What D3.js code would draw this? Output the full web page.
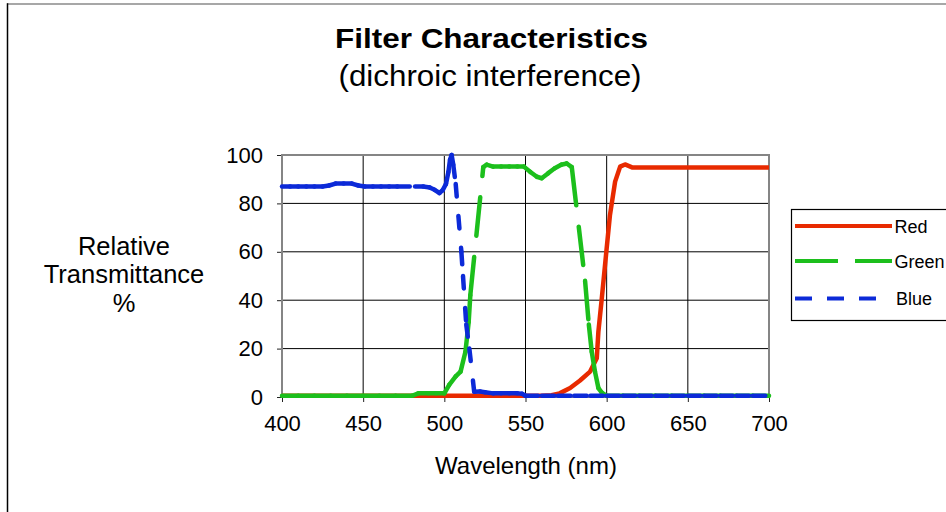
<!DOCTYPE html>
<html>
<head>
<meta charset="utf-8">
<title>Filter Characteristics</title>
<script src="https://cdn.jsdelivr.net/npm/d3@7"></script>
<style>
  html, body { margin: 0; padding: 0; background: #fff; }
  svg { display: block; font-family: "Liberation Sans", Arial, Helvetica, sans-serif; }
</style>
</head>
<body>
<svg id="chart" width="946" height="512"></svg>
<script>
// values: [wavelength nm, transmittance %]
var red = [
  [400, 0.5], [410, 0.5], [420, 0.5], [430, 0.5], [440, 0.5], [450, 0.5], [460, 0.5],
  [470, 0.5], [480, 0.5], [490, 0.5], [500, 0.5], [510, 0.5], [520, 0.5], [530, 0.5],
  [540, 0.5], [550, 0.5], [560, 0.5], [566, 0.7], [571, 1.5], [577.5, 3.7], [583.6, 6.8],
  [589.8, 10.5], [593.9, 16], [594.9, 27], [597, 40.8], [599.6, 58.7], [602, 75],
  [605.2, 89], [608.3, 95.2], [611.3, 96.1], [616, 94.8], [630, 94.8], [640, 94.8],
  [650, 94.8], [660, 94.8], [670, 94.8], [680, 94.8], [690, 94.8], [700, 94.8]
];
var green = [
  [400, 0.5], [410, 0.5], [420, 0.5], [430, 0.5], [440, 0.5], [450, 0.5], [460, 0.5],
  [470, 0.5], [480, 0.5], [484, 1.5], [490, 1.5], [495, 1.5], [500, 1.5], [503, 5],
  [507, 8.5], [510, 10.5], [513, 18.7], [515, 31], [516, 42], [524, 95], [526, 96],
  [530, 95.2], [535, 95.2], [540, 95.2], [545, 95.2], [549, 95.2], [553, 93], [557, 91],
  [560, 90.4], [564, 92.5], [568, 94.5], [572, 96], [575.4, 96.5], [578.5, 95],
  [586.7, 48], [589, 30], [590.8, 18.7], [592.8, 10.5], [594.9, 3.7], [597, 1.8],
  [600, 0.5], [610, 0.5], [620, 0.5], [630, 0.5], [640, 0.5], [650, 0.5], [660, 0.5],
  [670, 0.5], [680, 0.5], [690, 0.5], [700, 0.5]
];
var blue = [
  [400, 87], [405, 87], [410, 87], [415, 87], [420, 87], [425, 87], [429, 87.4],
  [433, 88.2], [438, 88.2], [443, 88.2], [447, 87.4], [451, 87], [456, 87], [461, 87],
  [466, 87], [471, 87], [482, 87], [487, 87], [491, 86.6], [494, 85.6], [497, 84.3],
  [499, 85.5], [501, 88], [502.5, 93], [503.5, 98], [504.5, 100], [505.5, 96],
  [507, 88], [510.5, 60], [511.5, 50], [513.5, 30], [515.4, 20], [518.4, 2.2],
  [522, 2.3], [525, 2], [530, 1.5], [535, 1.5], [540, 1.5], [545, 1.5], [548, 1.3],
  [550, 0.5], [560, 0.5], [570, 0.5], [580, 0.5], [590, 0.5], [600, 0.5], [610, 0.5],
  [620, 0.5], [630, 0.5], [640, 0.5], [650, 0.5], [660, 0.5], [670, 0.5], [680, 0.5],
  [690, 0.5], [700, 0.5]
];
var seriesNames = ["Red", "Green", "Blue"];
var xTicks = [400, 450, 500, 550, 600, 650, 700];
var yTicks = [0, 20, 40, 60, 80, 100];

(function () {
  "use strict";

  var svg = d3.select("#chart");
  var C = { red: "#e82a00", green: "#1cbf1c", blue: "#0c2ad8", frame: "#858585", ink: "#000" };
  var W = 4.5;  // line width
  var series = [
    { name: seriesNames[0], data: red, color: C.red, dash: null },
    { name: seriesNames[1], data: green, color: C.green, dash: [43, 17] },
    { name: seriesNames[2], data: blue, color: C.blue, dash: [17, 15] }
  ];

  var P = { l: 282, r: 769, t: 155, b: 397 };
  var x = d3.scaleLinear().domain([400, 700]).range([P.l, P.r]);
  var y = d3.scaleLinear().domain([0, 100]).range([P.b, P.t]);

  // chart frame
  svg.append("line").attr("x1", 7).attr("x2", 946).attr("y1", 4).attr("y2", 4)
    .attr("stroke", "#8a8a8a").attr("stroke-width", 1.5);
  svg.append("line").attr("x1", 7.5).attr("x2", 7.5).attr("y1", 3.3).attr("y2", 512)
    .attr("stroke", C.ink).attr("stroke-width", 1.5);

  // titles
  svg.append("text").attr("x", 491.5).attr("y", 48).attr("text-anchor", "middle")
    .style("font-size", "28px").style("font-weight", "700")
    .attr("textLength", 313).attr("lengthAdjust", "spacingAndGlyphs")
    .text("Filter Characteristics");
  svg.append("text").attr("x", 490).attr("y", 86).attr("text-anchor", "middle")
    .style("font-size", "29px")
    .attr("textLength", 303).attr("lengthAdjust", "spacingAndGlyphs")
    .text("(dichroic interference)");

  // grid
  var grid = svg.append("g");
  xTicks.slice(1, -1).forEach(function (t) {
    grid.append("line").attr("x1", x(t)).attr("x2", x(t)).attr("y1", P.t).attr("y2", P.b)
      .attr("stroke", C.ink).attr("stroke-width", 1);
  });
  yTicks.slice(1, -1).forEach(function (t) {
    grid.append("line").attr("x1", P.l).attr("x2", P.r).attr("y1", y(t)).attr("y2", y(t))
      .attr("stroke", C.ink).attr("stroke-width", 1);
  });

  // axes
  var ax = d3.axisBottom(x).tickValues(xTicks).tickSize(5).tickPadding(13)
    .tickFormat(d3.format("d"));
  var gx = svg.append("g").attr("transform", "translate(0," + P.b + ")").call(ax);
  var ay = d3.axisLeft(y).tickValues(yTicks).tickSize(5).tickPadding(14)
    .tickFormat(d3.format("d"));
  var gy = svg.append("g").attr("transform", "translate(" + P.l + ",0)").call(ay);
  [gx, gy].forEach(function (g) {
    g.select(".domain").remove();
    g.selectAll(".tick line").attr("stroke", "#222");
    g.selectAll(".tick text").style("font-size", "22px").attr("fill", C.ink)
      .style("font-family", "'Liberation Sans', Arial, sans-serif");
  });
  gx.selectAll(".tick text").attr("dy", "0.71em");

  // plot border
  svg.append("rect").attr("x", P.l).attr("y", P.t).attr("width", P.r - P.l).attr("height", P.b - P.t)
    .attr("fill", "none").attr("stroke", C.frame).attr("stroke-width", 2);

  // axis titles
  svg.append("text").attr("x", 526).attr("y", 474).attr("text-anchor", "middle")
    .style("font-size", "24px").text("Wavelength (nm)");
  var yl = svg.append("text").attr("text-anchor", "middle").style("font-size", "25.5px");
  ["Relative", "Transmittance", "%"].forEach(function (s, i) {
    yl.append("tspan").attr("x", 124).attr("y", 255 + i * 28.3).text(s);
  });

  // series: dashed lines restart their pattern on every segment, as the original does
  var line = d3.line().x(function (d) { return x(d[0]); }).y(function (d) { return y(d[1]); });
  var gS = svg.append("g").attr("fill", "none");
  series.forEach(function (s) {
    if (!s.dash) {
      gS.append("path").attr("d", line(s.data)).attr("stroke", s.color)
        .attr("stroke-width", W).attr("stroke-linejoin", "round");
      return;
    }
    d3.pairs(s.data).forEach(function (p) {
      gS.append("path").attr("d", line(p)).attr("stroke", s.color)
        .attr("stroke-width", W).attr("stroke-linecap", "round")
        .attr("stroke-dasharray", (s.dash[0] - W) + "," + (s.dash[1] + W));
    });
  });

  // legend
  var L = { x: 791.5, y: 209.5, w: 160, h: 111 };
  var gL = svg.append("g");
  gL.append("rect").attr("x", L.x).attr("y", L.y).attr("width", L.w).attr("height", L.h)
    .attr("fill", "#fff").attr("stroke", C.ink).attr("stroke-width", 1.2);
  var rowY = [226, 261, 298.5], lineEnd = [892, 892, 877];
  series.forEach(function (s, i) {
    gL.append("line").attr("x1", 795).attr("x2", lineEnd[i]).attr("y1", rowY[i]).attr("y2", rowY[i])
      .attr("stroke", s.color).attr("stroke-width", 4)
      .attr("stroke-dasharray", s.dash ? s.dash.join(",") : null);
    gL.append("text").attr("x", i === 2 ? 896 : 894.5).attr("y", rowY[i] + 6.5)
      .style("font-size", "18px").text(s.name);
  });
})();
</script>
</body>
</html>
